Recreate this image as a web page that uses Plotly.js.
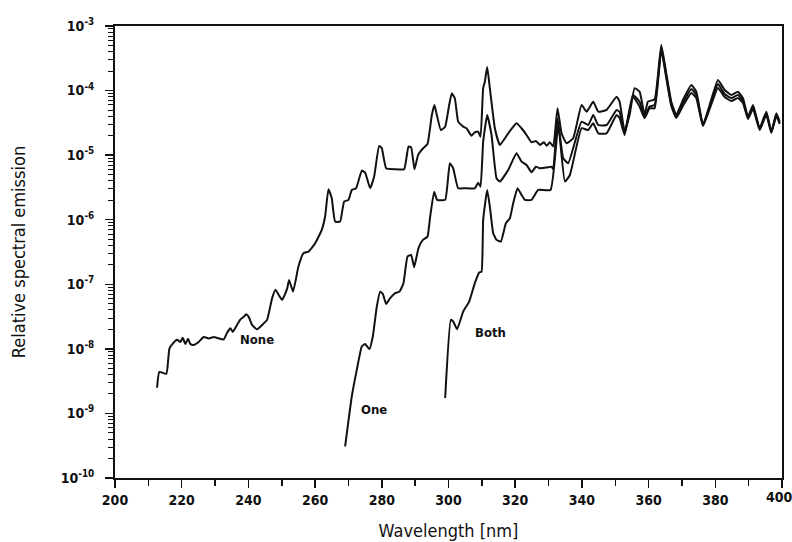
<!DOCTYPE html>
<html>
<head>
<meta charset="utf-8">
<script src="https://cdn.plot.ly/plotly-3.0.1.min.js"></script>
<style>html,body{margin:0;padding:0;background:#fff;}#chart{width:792px;height:542px;}</style>
</head>
<body>
<div id="chart"></div>
<script>
// Wavelength (nm) and relative spectral emission
const noneX = [212.6,213.3,215.4,216.3,217.5,218.6,219.6,220.3,221.1,221.9,222.6,223.6,225.1,226.6,228.1,229.6,231.1,232.6,233.6,234.6,235.3,236.6,237.6,238.6,239.3,240.1,241.1,242.6,244.6,245.6,247.1,248.1,250.1,251.6,252.2,253.4,255.0,256.5,258.0,260.0,262.0,263.0,264.0,265.0,266.0,267.5,268.7,270.0,271.0,272.3,274.0,275.0,276.5,277.7,279.2,280.0,281.3,284.0,286.7,288.0,288.8,289.8,290.9,292.4,293.7,295.0,295.8,296.5,297.7,299.0,300.2,301.0,301.9,302.9,304.4,305.4,306.9,307.9,308.9,309.6,310.4,310.9,311.6,312.4,313.9,315.4,317.9,320.4,321.9,323.4,324.9,326.2,327.4,328.6,329.4,330.4,331.4,332.7,333.9,335.4,337.4,339.9,341.4,343.4,344.9,347.4,350.4,351.3,352.8,354.3,355.8,357.3,358.8,359.8,361.8,363.8,365.3,366.8,368.3,370.3,372.8,374.3,376.3,378.3,380.8,382.8,384.8,386.8,388.3,389.8,391.3,393.3,395.3,396.8,398.3,399.3];
const noneY = [2.5e-9,4.4e-9,4.1e-9,1.0e-8,1.24e-8,1.38e-8,1.28e-8,1.48e-8,1.19e-8,1.43e-8,1.19e-8,1.15e-8,1.28e-8,1.53e-8,1.45e-8,1.53e-8,1.45e-8,1.40e-8,1.77e-8,2.08e-8,1.83e-8,2.35e-8,2.86e-8,3.13e-8,3.42e-8,3.13e-8,2.35e-8,2.0e-8,2.48e-8,2.81e-8,6.05e-8,8.2e-8,5.74e-8,8.5e-8,1.17e-7,7.7e-8,1.88e-7,3.03e-7,3.2e-7,4.3e-7,6.95e-7,1.12e-6,2.97e-6,2.15e-6,9.35e-7,9.35e-7,1.91e-6,2.03e-6,2.89e-6,3.07e-6,5.76e-6,5.36e-6,3.07e-6,4.65e-6,1.39e-5,1.28e-5,6.27e-6,6.05e-6,6.05e-6,1.36e-5,1.32e-5,6.05e-6,1.01e-5,1.28e-5,1.49e-5,4.19e-5,5.98e-5,4.19e-5,2.45e-5,2.76e-5,5.98e-5,9.08e-5,7.6e-5,3.3e-5,2.76e-5,2.61e-5,2.0e-5,2.26e-5,2.31e-5,1.93e-5,1.09e-4,1.37e-4,2.32e-4,1.09e-4,2.61e-5,1.44e-5,2.18e-5,3.12e-5,2.61e-5,2.05e-5,1.58e-5,1.66e-5,1.44e-5,1.58e-5,1.40e-5,1.58e-5,1.36e-5,5.32e-5,2.18e-5,1.53e-5,1.83e-5,5.98e-5,4.71e-5,6.73e-5,4.71e-5,5.01e-5,8.05e-5,6.73e-5,2.37e-5,4.19e-5,1.09e-4,9.62e-5,4.19e-5,6.73e-5,7.33e-5,5.08e-4,1.85e-4,6.73e-5,4.19e-5,7.15e-5,1.22e-4,9.62e-5,2.93e-5,5.98e-5,1.46e-4,1.02e-4,8.55e-5,9.62e-5,7.6e-5,3.94e-5,5.98e-5,2.61e-5,4.71e-5,2.31e-5,4.46e-5,3.3e-5];

const oneX = [269.0,271.0,272.5,274.0,275.0,276.3,277.3,278.5,279.5,280.3,281.3,282.5,284.0,285.3,286.5,287.7,288.8,289.7,291.0,292.3,293.7,294.5,295.7,296.6,299.0,300.4,301.4,302.9,304.9,307.9,308.9,309.6,310.4,311.6,312.9,314.4,315.4,317.9,320.4,321.9,323.4,324.9,326.2,327.4,329.4,330.9,331.4,332.7,334.4,335.9,339.9,341.9,343.4,344.9,347.4,350.4,351.3,352.8,355.3,357.3,358.8,360.3,361.8,363.8,365.3,366.8,368.3,370.3,372.8,374.3,376.3,378.3,380.8,382.8,384.8,386.8,388.3,389.8,391.3,393.3,395.3,396.8,398.3,399.3];
const oneY = [3.08e-10,1.83e-9,4.73e-9,1.09e-8,1.19e-8,9.9e-9,1.55e-8,4.52e-8,7.7e-8,7.1e-8,4.97e-8,6.1e-8,7.28e-8,7.7e-8,1.04e-7,2.69e-7,2.85e-7,1.84e-7,3.62e-7,4.87e-7,5.47e-7,1.12e-6,2.72e-6,2.03e-6,2.03e-6,7.5e-6,6.27e-6,3.07e-6,3.07e-6,3.07e-6,3.75e-6,3.25e-6,1.62e-5,4.19e-5,2.05e-5,4.38e-6,3.89e-6,5.9e-6,1.07e-5,7.93e-6,7.05e-6,5.43e-6,6.63e-6,6.27e-6,6.41e-6,6.63e-6,6.11e-6,3.73e-5,8.95e-6,7.5e-6,3.3e-5,2.93e-5,4.19e-5,2.93e-5,2.93e-5,5.01e-5,4.67e-5,2.18e-5,8.55e-5,6.73e-5,3.94e-5,5.64e-5,5.98e-5,4.56e-4,1.68e-4,6.2e-5,3.9e-5,6.43e-5,1.06e-4,8.55e-5,2.93e-5,5.57e-5,1.26e-4,8.85e-5,7.67e-5,8.55e-5,6.9e-5,3.77e-5,5.57e-5,2.55e-5,4.5e-5,2.29e-5,4.19e-5,3.15e-5];

const bothX = [299.0,300.7,301.4,302.6,304.4,306.2,307.9,309.2,309.9,310.4,311.6,312.4,313.4,314.4,315.7,317.2,318.4,319.4,320.7,321.9,322.9,324.9,326.9,330.6,332.9,334.9,336.4,339.9,341.9,343.4,344.9,347.4,350.4,351.3,352.8,355.3,357.3,358.8,360.3,361.8,363.8,365.3,366.8,368.3,370.3,372.8,374.3,376.3,378.3,380.8,382.8,384.8,386.8,388.3,389.8,391.3,393.3,395.3,396.8,398.3,399.3];
const bothY = [1.73e-9,2.81e-8,2.65e-8,2.02e-8,3.78e-8,5.4e-8,1.04e-7,1.52e-7,1.57e-7,9.93e-7,2.89e-6,1.6e-6,6.18e-7,4.87e-7,4.58e-7,8.83e-7,1.05e-6,1.8e-6,3.07e-6,2.42e-6,2.03e-6,2.03e-6,2.89e-6,2.89e-6,2.93e-5,3.89e-6,4.93e-6,2.61e-5,2.45e-5,3.12e-5,2.18e-5,2.18e-5,4.19e-5,3.77e-5,2.05e-5,8.05e-5,5.64e-5,3.73e-5,5.32e-5,5.32e-5,4.25e-4,1.57e-4,5.78e-5,3.77e-5,5.78e-5,9.18e-5,7.67e-5,2.83e-5,5.19e-5,1.1e-4,7.96e-5,6.9e-5,7.67e-5,6.43e-5,3.63e-5,5.19e-5,2.45e-5,4.19e-5,2.21e-5,4.04e-5,3.04e-5];

const seriesNames = ["None", "One", "Both"];
const xTickVals = [200,220,240,260,280,300,320,340,360,380,400];
const xTickText = ["200","220","240","260","280","300","320","340","360","380",""];
const lastXLabel = "400";
const yTickVals = [1e-10,1e-9,1e-8,1e-7,1e-6,1e-5,1e-4,1e-3];
const yTickText = ["10<sup>-10</sup>","10<sup>-9</sup>","10<sup>-8</sup>","10<sup>-7</sup>","10<sup>-6</sup>","10<sup>-5</sup>","10<sup>-4</sup>","10<sup>-3</sup>"];

const minorY = [];
for (let e = -10; e < -3; e++) for (let m = 2; m <= 9; m++) minorY.push(m * Math.pow(10, e));
const minorX = [];
for (let v = 210; v < 400; v += 20) minorX.push(v);

const FONT = "DejaVu Sans Condensed, Liberation Sans Narrow, DejaVu Sans, sans-serif";
const lineStyle = {color: '#111', width: 2, shape: 'spline', smoothing: 0.4};
const tickFont = {family: FONT, size: 14, color: '#111', weight: 'bold'};

const traces = [
  {x: noneX, y: noneY, name: seriesNames[0], mode: 'lines', line: lineStyle},
  {x: oneX, y: oneY, name: seriesNames[1], mode: 'lines', line: lineStyle},
  {x: bothX, y: bothY, name: seriesNames[2], mode: 'lines', line: lineStyle}
];

const layout = {
  width: 792, height: 542,
  margin: {l: 115, r: 10, t: 26, b: 64},
  paper_bgcolor: '#fff', plot_bgcolor: '#fff',
  showlegend: false,
  font: {family: FONT, color: '#111', size: 13},
  xaxis: {
    range: [200, 400], tickmode: 'array', tickvals: xTickVals, ticktext: xTickText,
    ticks: 'outside', ticklen: 8, tickwidth: 1.5, tickcolor: '#111',
    minor: {tickmode: 'array', tickvals: minorX, ticks: 'outside', ticklen: 6, tickwidth: 1.5, tickcolor: '#111', showgrid: false},
    showline: true, linecolor: '#111', linewidth: 2, mirror: true,
    showgrid: false, zeroline: false,
    tickfont: tickFont,
    title: {text: 'Wavelength [nm]', font: {family: FONT, size: 18, color: '#111'}, standoff: 18}
  },
  yaxis: {
    type: 'log', range: [-10, -3],
    tickmode: 'array', tickvals: yTickVals, ticktext: yTickText,
    ticks: 'outside', ticklen: 8, tickwidth: 1.5, tickcolor: '#111',
    ticklabelstandoff: 8,
    minor: {tickmode: 'array', tickvals: minorY, ticks: 'outside', ticklen: 5, tickwidth: 1, tickcolor: '#111', showgrid: false},
    showline: true, linecolor: '#111', linewidth: 2, mirror: true,
    showgrid: false, zeroline: false,
    tickfont: tickFont,
    title: {text: 'Relative spectral emission', font: {family: FONT, size: 18, color: '#111'}, standoff: 30}
  },
  annotations: [
    {x: 242.5, y: -7.86, text: seriesNames[0], showarrow: false, font: {family: FONT, size: 13, color: '#111', weight: 'bold'}},
    {x: 277.7, y: -8.94, text: seriesNames[1], showarrow: false, font: {family: FONT, size: 13, color: '#111', weight: 'bold'}},
    {x: 312.7, y: -7.74, text: seriesNames[2], showarrow: false, font: {family: FONT, size: 13, color: '#111', weight: 'bold'}},
    {x: 400, xref: 'x', y: 0, yref: 'paper', yanchor: 'top', xanchor: 'center', xshift: -3, yshift: -9,
     text: lastXLabel, showarrow: false, font: tickFont}
  ]
};

Plotly.newPlot('chart', traces, layout, {displayModeBar: false, staticPlot: true});
</script>
</body>
</html>
